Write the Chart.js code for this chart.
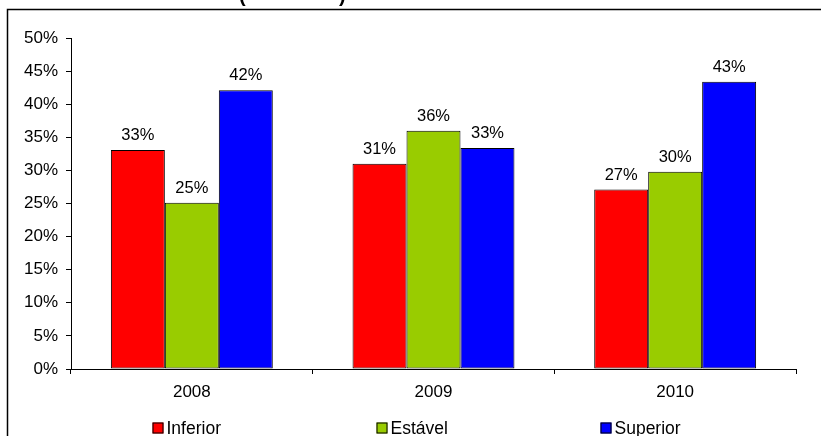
<!DOCTYPE html>
<html>
<head>
<meta charset="utf-8">
<script src="https://cdn.jsdelivr.net/npm/chart.js@4.4.1/dist/chart.umd.min.js"></script>
<style>
  html, body { margin: 0; padding: 0; background: #fff; }
  #wrap { width: 821px; height: 436px; }
</style>
</head>
<body>
<div id="wrap"><canvas id="chart" width="821" height="436"></canvas></div>
<script>
// data
const years = ['2008', '2009', '2010'];
const inferior = [33.1, 31.0, 27.1];
const estavel = [25.1, 36.0, 29.8];
const superior = [42.1, 33.4, 43.4];
const seriesNames = ['Inferior', 'Estável', 'Superior'];
const seriesColors = ['#FF0000', '#99CC00', '#0000FF'];
const yTicks = [0, 5, 10, 15, 20, 25, 30, 35, 40, 45, 50];

const FONT = '"Liberation Sans", Arial, sans-serif';
const NARROW = '"Liberation Sans Narrow", "Arial Narrow", "Liberation Sans", sans-serif';

// frame + cut-off title at the top
const framePlugin = {
    id: 'frame',
    beforeDraw(chart) {
        const ctx = chart.ctx;
        ctx.save();
        ctx.fillStyle = '#fff';
        ctx.fillRect(0, 0, chart.width, chart.height);
        ctx.strokeStyle = '#000';
        ctx.lineWidth = 1.5;
        ctx.beginPath();
        ctx.moveTo(7.5, chart.height + 2);
        ctx.lineTo(7.5, 9.5);
        ctx.lineTo(chart.width + 2, 9.5);
        ctx.stroke();
        // title sits above the visible area, only the brackets poke through
        ctx.fillStyle = '#000';
        ctx.font = 'bold 20px ' + FONT;
        ctx.textBaseline = 'alphabetic';
        ctx.textAlign = 'left';
        ctx.fillText('(', 239, 2);
        ctx.fillText(')', 339, 2);
        ctx.restore();
    }
};

// value labels above each bar
const valueLabels = {
    id: 'valueLabels',
    afterDatasetsDraw(chart) {
        const ctx = chart.ctx;
        ctx.save();
        ctx.fillStyle = '#000';
        ctx.font = '16.5px ' + FONT;
        ctx.textAlign = 'center';
        ctx.textBaseline = 'alphabetic';
        chart.data.datasets.forEach((ds, i) => {
            chart.getDatasetMeta(i).data.forEach((bar, j) => {
                ctx.fillText(Math.round(ds.data[j]) + '%', bar.x, bar.y - 10);
            });
        });
        ctx.restore();
    }
};

// Excel-style legend spread across the bottom
const bottomLegend = {
    id: 'bottomLegend',
    afterDraw(chart) {
        const ctx = chart.ctx;
        const startX = 152.5, step = 224, cy = 428, box = 11;
        ctx.save();
        ctx.font = '17.5px ' + NARROW;
        ctx.textBaseline = 'middle';
        ctx.textAlign = 'left';
        chart.data.datasets.forEach((ds, i) => {
            const x = startX + i * step;
            ctx.fillStyle = ds.backgroundColor;
            ctx.fillRect(x, cy - box / 2, box, box);
            ctx.strokeStyle = '#000';
            ctx.lineWidth = 1;
            ctx.strokeRect(x + 0.5, cy - box / 2 + 0.5, box - 1, box - 1);
            ctx.fillStyle = '#000';
            ctx.fillText(ds.label, x + box + 3, cy + 1);
        });
        ctx.restore();
    }
};

const seriesData = [inferior, estavel, superior];

new Chart(document.getElementById('chart').getContext('2d'), {
    type: 'bar',
    data: {
        labels: years,
        datasets: seriesNames.map((name, i) => ({
            label: name,
            data: seriesData[i],
            backgroundColor: seriesColors[i],
            borderColor: '#000',
            borderWidth: 1,
            borderSkipped: false,
            categoryPercentage: 0.67,
            barPercentage: 1
        }))
    },
    options: {
        responsive: false,
        animation: false,
        layout: { padding: { left: 0, top: 38, right: 25, bottom: 0 } },
        plugins: {
            legend: { display: false },
            tooltip: { enabled: false }
        },
        scales: {
            x: {
                afterFit(scale) { scale.height = 67; },
                grid: {
                    offset: true,
                    drawOnChartArea: false,
                    drawTicks: true,
                    tickLength: 5,
                    tickColor: '#000'
                },
                border: { color: '#000', width: 1 },
                ticks: {
                    color: '#000',
                    padding: 8,
                    font: { family: FONT, size: 17 }
                }
            },
            y: {
                min: 0,
                max: 50,
                afterFit(scale) { scale.width = 71; },
                afterBuildTicks(scale) {
                    scale.ticks = yTicks.map(v => ({ value: v }));
                },
                grid: {
                    drawOnChartArea: false,
                    drawTicks: true,
                    tickLength: 5,
                    tickColor: '#000'
                },
                border: { color: '#000', width: 1 },
                ticks: {
                    color: '#000',
                    padding: 8,
                    font: { family: FONT, size: 17 },
                    callback: v => v + '%'
                }
            }
        }
    },
    plugins: [framePlugin, valueLabels, bottomLegend]
});
</script>
</body>
</html>
